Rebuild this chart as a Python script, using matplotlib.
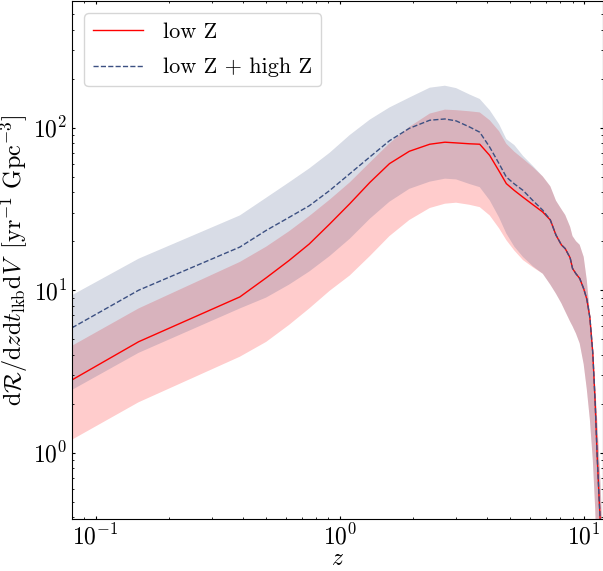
import numpy as np
import matplotlib
matplotlib.use("Agg")
import matplotlib.pyplot as plt

plt.rcParams.update({
    "font.family": "serif",
    "font.serif": ["cmr10"],
    "mathtext.fontset": "cm",
    "axes.formatter.use_mathtext": True,
    "axes.unicode_minus": False,
    "xtick.direction": "in",
    "ytick.direction": "in",
    "xtick.top": True,
    "ytick.right": True,
    "xtick.major.size": 2.2,
    "ytick.major.size": 2.2,
    "xtick.minor.size": 1.2,
    "ytick.minor.size": 1.2,
})

# redshift grid
z = np.array([0.08, 0.15, 0.39, 0.5, 0.62, 0.75, 0.91, 1.1, 1.33, 1.6, 1.93, 2.34,
              2.7, 3.0, 3.4, 3.75, 4.12, 4.5, 4.82, 5.2, 5.64, 6.2, 6.8, 7.3,
              7.7, 8.1, 8.4, 8.8, 9.0, 9.3, 9.63, 10.0, 10.3, 10.6, 10.9, 11.15,
              11.35, 11.55, 11.7, 11.85, 12.0])

# low-metallicity rate: median and 90% band
low_med = np.array([2.80, 4.81, 9.08, 11.9, 15.2, 19.2, 25.5, 34.0, 46.0, 60.0, 71.5, 79.0,
                    81.3, 80.5, 79.5, 79.0, 67.4, 54.0, 45.2, 41.0, 37.3, 33.5, 30.2, 27.0,
                    21.8, 19.0, 18.0, 15.8, 13.6, 12.6, 11.8, 10.2, 8.8, 6.8, 4.1, 2.0,
                    0.98, 0.55, 0.37, 0.15, 0.05])
low_lo = np.array([1.20, 2.04, 3.89, 4.8, 6.1, 7.7, 9.9, 12.3, 16.2, 21.5, 27.0, 32.0,
                   34.0, 34.5, 33.5, 32.4, 28.8, 24.0, 20.3, 17.5, 15.3, 13.8, 12.6, 10.8,
                   9.5, 8.3, 7.4, 6.4, 6.0, 5.4, 4.7, 3.5, 2.45, 1.6, 0.9, 0.45,
                   0.2, 0.1, 0.05, 0.02, 0.01])
low_hi = np.array([4.54, 7.71, 14.9, 18.5, 23.0, 28.5, 36.0, 46.0, 61.0, 80.0, 101.0, 122.0,
                   129.0, 128.0, 126.0, 124.0, 111.0, 95.0, 79.5, 71.0, 64.3, 57.0, 50.0, 43.5,
                   35.5, 31.5, 29.0, 24.5, 21.5, 20.0, 19.0, 16.0, 11.5, 7.2, 4.2, 2.55,
                   1.62, 1.0, 0.68, 0.43, 0.25])

# low + high metallicity rate: median and 90% band
all_med = np.array([5.86, 9.98, 18.4, 23.3, 28.0, 33.0, 41.0, 52.0, 66.0, 83.0, 99.0, 111.0,
                    113.0, 110.0, 101.0, 93.7, 75.8, 60.0, 49.6, 45.0, 41.1, 35.5, 31.0, 27.0,
                    21.8, 19.0, 18.0, 15.8, 13.6, 12.6, 11.8, 10.2, 8.8, 6.8, 4.1, 2.0,
                    0.98, 0.55, 0.37, 0.15, 0.05])
all_lo = np.array([2.43, 4.11, 7.71, 9.0, 10.8, 13.0, 16.2, 20.7, 27.5, 35.0, 42.0, 46.5,
                   48.5, 48.0, 45.0, 43.0, 35.7, 28.0, 22.3, 18.5, 16.0, 14.0, 12.6, 10.8,
                   9.5, 8.3, 7.4, 6.4, 6.0, 5.4, 4.7, 3.5, 2.45, 1.6, 0.9, 0.45,
                   0.2, 0.1, 0.05, 0.02, 0.01])
all_hi = np.array([9.3, 15.6, 28.8, 37.0, 46.0, 56.0, 70.0, 90.0, 112.0, 133.0, 153.0, 176.0,
                   181.0, 175.0, 160.0, 150.0, 128.0, 105.0, 85.0, 78.0, 67.0, 58.0, 50.0, 43.5,
                   35.5, 31.5, 29.0, 24.5, 21.5, 20.0, 19.0, 16.0, 11.5, 7.2, 4.2, 2.55,
                   1.62, 1.0, 0.68, 0.43, 0.25])

red = "#ff0000"
navy = "#3c5082"

fig = plt.figure(figsize=(6.03, 5.71), dpi=100)
ax = fig.add_axes([0.1194, 0.091, 0.8806, 0.907])

ax.fill_between(z, low_lo, low_hi, color=red, alpha=0.2, lw=0)
ax.fill_between(z, all_lo, all_hi, color=navy, alpha=0.2, lw=0)
ax.plot(z, low_med, color=red, lw=1.0, label="low Z")
ax.plot(z, all_med, color=navy, lw=1.0, ls="--", label="low Z + high Z")

ax.set_xscale("log")
ax.set_yscale("log")
ax.set_xlim(0.08, 12)
ax.set_ylim(0.39, 600)

ax.tick_params(labelsize=17)
ax.set_xlabel(r"$z$", fontsize=17, labelpad=-1)
ax.set_ylabel(r"$\mathrm{d}\mathcal{R}/\mathrm{d}z\mathrm{d}t_{\mathrm{lkb}}\mathrm{d}V\;\;[\mathrm{yr}^{-1}\ \mathrm{Gpc}^{-3}]$",
              fontsize=17.5, labelpad=2)

ax.legend(loc="upper left", fontsize=16, handlelength=2.25, handletextpad=0.9,
          labelspacing=0.72, borderaxespad=0.55)

fig.savefig("out.png", dpi=100)
